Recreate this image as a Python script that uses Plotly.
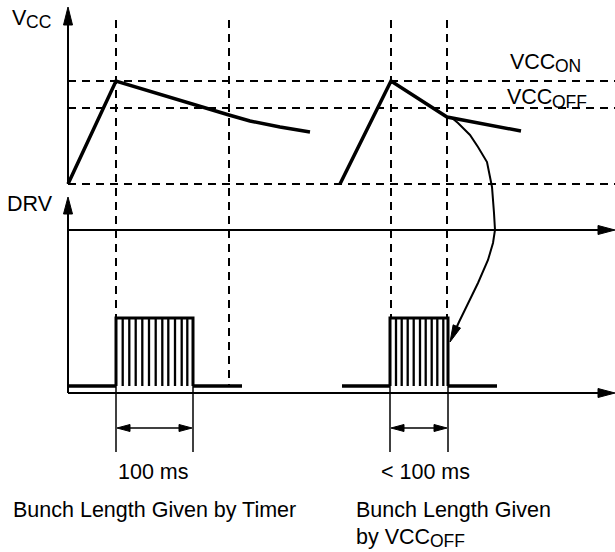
import math
import plotly.graph_objects as go

# ---------------- data (diagram units: time -> x, level -> y) ----------------
x_axis = 68          # time origin (vertical axes)
x_end = 615          # end of time axes

# VCC threshold levels
vcc_on = 81
vcc_off = 108
vcc_low = 184

# Vertical dashed time markers and their lower ends
marker_t = [116, 229, 391, 447]
marker_top = [20, 20, 20, 20]
marker_bottom = [318, 386, 318, 318]

# VCC waveforms
vcc1_t = [68, 116, 229, 250, 280, 310]
vcc1_v = [184, 81, 115, 121, 127, 132]
vcc2_t = [340, 391, 447, 521]
vcc2_v = [184, 81, 117, 131]

# DRV levels
drv_axis_top = 230
drv_axis_bottom = 393
drv_low = 386
drv_high = 318

# Bunches
bunch1_edges = [116, 193]
bunch1_pulses = [122.7, 129.3, 135.7, 142.3, 149, 155.7, 162.3, 168.3, 175, 181.7, 187.3]
bunch1_base = [68, 242]
bunch2_edges = [390, 448]
bunch2_pulses = [396, 401.7, 407.7, 413.7, 420, 425.7, 431.7, 437.3, 443.3]
bunch2_base = [342, 497]

dim_bottom = 452
dim_level = 428

# Curved arrow from VCC_OFF crossing to end of bunch 2
curve_t = [452, 458, 470, 478, 487, 492, 494, 495, 493, 488, 478, 468, 459, 454]
curve_v = [118, 123, 135, 147, 162, 187, 213, 230, 243, 260, 283, 303, 322, 333]

# Text labels
FONT = "Liberation Sans, Arial, Helvetica, sans-serif"
MAIN = 21.5
SUB = 17.5

fig = go.Figure()


def line(xs, ys, width, dash=None):
    fig.add_trace(go.Scatter(x=xs, y=ys, mode="lines",
                             line=dict(color="black", width=width, dash=dash,
                                       shape="linear"),
                             hoverinfo="skip", showlegend=False, cliponaxis=False))


def arrowhead(tip, frm, length, half):
    dx, dy = tip[0] - frm[0], tip[1] - frm[1]
    n = math.hypot(dx, dy)
    ux, uy = dx / n, dy / n
    bx, by = tip[0] - ux * length, tip[1] - uy * length
    px, py = -uy, ux
    xs = [tip[0], bx + px * half, bx - px * half, tip[0]]
    ys = [tip[1], by + py * half, by - py * half, tip[1]]
    fig.add_trace(go.Scatter(x=xs, y=ys, mode="lines", fill="toself",
                             fillcolor="black", line=dict(color="black", width=1),
                             hoverinfo="skip", showlegend=False, cliponaxis=False))


DASH = "8px,6px"

# horizontal dashed threshold lines
for lvl in [vcc_on, vcc_off, vcc_low]:
    line([x_axis, x_end], [lvl, lvl], 2, DASH)

# vertical dashed markers
for t, a, b in zip(marker_t, marker_top, marker_bottom):
    line([t, t], [a, b], 2, DASH)

# VCC axis
line([x_axis, x_axis], [vcc_low, 20], 2)
arrowhead((x_axis, 7), (x_axis, 30), 18, 4.5)

# DRV axis + time axes
line([x_axis, x_axis], [drv_axis_bottom, 210], 2)
arrowhead((x_axis, 197), (x_axis, 220), 17, 4.5)
line([x_axis, x_end - 10], [drv_axis_top, drv_axis_top], 2)
arrowhead((x_end, drv_axis_top), (x_end - 30, drv_axis_top), 17, 4.5)
line([x_axis, x_end - 10], [drv_axis_bottom, drv_axis_bottom], 2)
arrowhead((x_end, drv_axis_bottom), (x_end - 30, drv_axis_bottom), 17, 4.5)

# VCC curves
line(vcc1_t, vcc1_v, 3.5)
line(vcc2_t, vcc2_v, 3.5)

# bunches
for edges, pulses, base in [(bunch1_edges, bunch1_pulses, bunch1_base),
                            (bunch2_edges, bunch2_pulses, bunch2_base)]:
    l, r = edges
    line([base[0], l, None, r, base[1]], [drv_low, drv_low, None, drv_low, drv_low], 3.5)
    line([l, l, r, r], [drv_low, drv_high, drv_high, drv_low], 3)
    xs, ys = [], []
    for p in pulses:
        xs += [p, p, None]
        ys += [drv_high, drv_low, None]
    line(xs, ys, 2.3)
    line([l, l, None, r, r], [drv_low, dim_bottom, None, drv_low, dim_bottom], 1.5)
    line([l + 6, r - 6], [dim_level, dim_level], 1.5)
    arrowhead((l + 1, dim_level), (r, dim_level), 13, 3.5)
    arrowhead((r - 1, dim_level), (l, dim_level), 13, 3.5)

# curved arrow
line(curve_t, curve_v, 2)
arrowhead((450, 342), (457, 326), 17, 4)


def text(x, y, s, size=MAIN):
    fig.add_annotation(x=x, y=y, xref="x", yref="y", text=s, showarrow=False,
                       xanchor="left", yanchor="middle",
                       font=dict(family=FONT, size=size, color="black"))


# axis labels
text(10, 18, "V")
text(24, 22, "CC", SUB)
text(5, 204, "DRV")
text(508, 62, "VCC")
text(553, 66, "ON", SUB)
text(505, 97, "VCC")
text(550, 102, "OFF", SUB)

# bottom texts
text(116, 472, "100 ms")
text(379, 472, "< 100 ms")
text(11, 510, "Bunch Length Given by Timer")
text(354, 510, "Bunch Length Given")
text(354, 537, "by VCC")
text(428, 541, "OFF", SUB)

fig.update_xaxes(range=[0, 615], visible=False, fixedrange=True)
fig.update_yaxes(range=[552, 0], visible=False, fixedrange=True)
fig.update_layout(width=615, height=552, margin=dict(l=0, r=0, t=0, b=0),
                  plot_bgcolor="white", paper_bgcolor="white", showlegend=False)

fig.write_html("out.html",
               config={"displayModeBar": False, "staticPlot": True},
               post_script="document.body.style.margin='0';"
                           "document.body.style.overflow='hidden';")
